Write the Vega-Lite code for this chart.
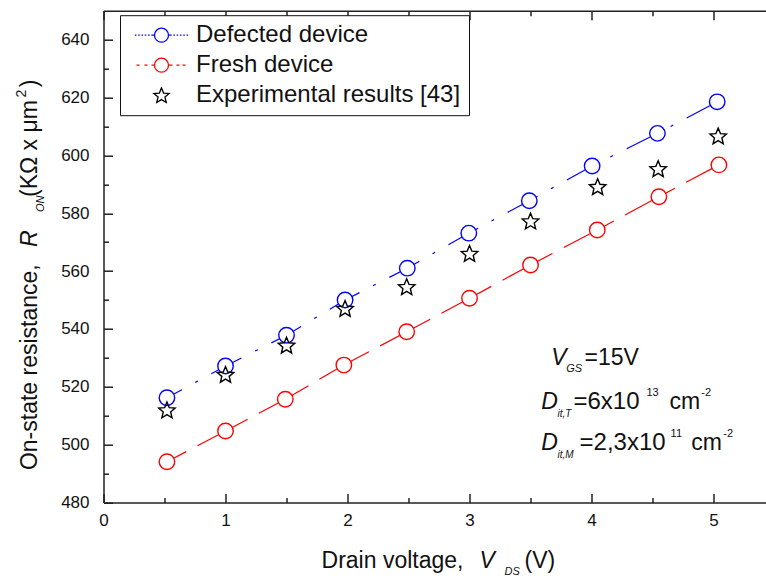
{
  "$schema": "https://vega.github.io/schema/vega-lite/v6.json",
  "width": 662.5,
  "height": 491.8,
  "autosize": {"type": "none"},
  "padding": {"left": 103.5, "top": 10.7, "right": 0, "bottom": 77.5},
  "background": "white",
  "config": {"view": {"stroke": null}, "font": "Liberation Sans"},
  "datasets": {
    "series": [
      {"series": "Defected device", "vds": 0.52, "ron": 516.2},
      {"series": "Defected device", "vds": 1.0, "ron": 527.2},
      {"series": "Defected device", "vds": 1.5, "ron": 537.8},
      {"series": "Defected device", "vds": 1.98, "ron": 550.0},
      {"series": "Defected device", "vds": 2.49, "ron": 561.0},
      {"series": "Defected device", "vds": 2.994, "ron": 573.1},
      {"series": "Defected device", "vds": 3.49, "ron": 584.3},
      {"series": "Defected device", "vds": 4.005, "ron": 596.3},
      {"series": "Defected device", "vds": 4.54, "ron": 607.6},
      {"series": "Defected device", "vds": 5.03, "ron": 618.5},
      {"series": "Fresh device", "vds": 0.52, "ron": 494.1},
      {"series": "Fresh device", "vds": 1.0, "ron": 504.7},
      {"series": "Fresh device", "vds": 1.49, "ron": 515.7},
      {"series": "Fresh device", "vds": 1.97, "ron": 527.5},
      {"series": "Fresh device", "vds": 2.485, "ron": 539.0},
      {"series": "Fresh device", "vds": 3.0, "ron": 550.6},
      {"series": "Fresh device", "vds": 3.5, "ron": 562.1},
      {"series": "Fresh device", "vds": 4.047, "ron": 574.2},
      {"series": "Fresh device", "vds": 4.552, "ron": 585.7},
      {"series": "Fresh device", "vds": 5.044, "ron": 596.7},
      {"series": "Experimental results [43]", "vds": 0.52, "ron": 512.0},
      {"series": "Experimental results [43]", "vds": 1.0, "ron": 524.3},
      {"series": "Experimental results [43]", "vds": 1.5, "ron": 534.4},
      {"series": "Experimental results [43]", "vds": 1.98, "ron": 547.1},
      {"series": "Experimental results [43]", "vds": 2.485, "ron": 554.6},
      {"series": "Experimental results [43]", "vds": 3.0, "ron": 566.1},
      {"series": "Experimental results [43]", "vds": 3.5, "ron": 577.3},
      {"series": "Experimental results [43]", "vds": 4.05, "ron": 589.2},
      {"series": "Experimental results [43]", "vds": 4.546, "ron": 595.4},
      {"series": "Experimental results [43]", "vds": 5.038, "ron": 606.7}
    ],
    "notes": [
      {"t": "Drain voltage,", "k": "n", "x": 1.787, "y": 457.4},
      {"t": "V", "k": "i", "x": 3.082, "y": 457.4},
      {"t": "DS", "k": "s", "x": 3.287, "y": 457.4},
      {"t": "(V)", "k": "n", "x": 3.451, "y": 457.4},
      {"t": "V", "k": "i", "x": 3.67, "y": 527.5},
      {"t": "GS", "k": "s", "x": 3.793, "y": 527.5},
      {"t": "=15V", "k": "n", "x": 3.943, "y": 527.5},
      {"t": "D", "k": "i", "x": 3.588, "y": 512.4},
      {"t": "it,T", "k": "t", "x": 3.721, "y": 512.4},
      {"t": "=6x10", "k": "w", "x": 3.852, "y": 512.4},
      {"t": "13", "k": "p", "x": 4.45, "y": 512.4},
      {"t": "cm", "k": "n", "x": 4.639, "y": 512.4},
      {"t": "-2", "k": "p", "x": 4.9, "y": 512.4},
      {"t": "D", "k": "i", "x": 3.588, "y": 498.2},
      {"t": "it,M", "k": "t", "x": 3.721, "y": 498.2},
      {"t": "=2,3x10", "k": "w", "x": 3.902, "y": 498.2},
      {"t": "11", "k": "p", "x": 4.648, "y": 498.2},
      {"t": "cm", "k": "n", "x": 4.817, "y": 498.2},
      {"t": "-2", "k": "p", "x": 5.08, "y": 498.2},
      {"t": "On-state resistance,", "k": "rn", "x": -0.549, "y": 491.2},
      {"t": "R", "k": "ri", "x": -0.549, "y": 568.3},
      {"t": "ON", "k": "rs", "x": -0.549, "y": 580.4},
      {"t": "(KΩ x μm", "k": "rn", "x": -0.549, "y": 585.6},
      {"t": "2", "k": "rp", "x": -0.549, "y": 620.0},
      {"t": ")", "k": "rn", "x": -0.549, "y": 623.5}
    ]
  },
  "resolve": {"axis": {"x": "independent", "y": "independent"}},
  "layer": [
    {
      "data": {"name": "series"},
      "transform": [{"filter": "datum.series === 'Defected device'"}],
      "mark": {"type": "line", "color": "#0000ff", "strokeWidth": 1.2, "strokeDash": [34, 15.25, 3, 15.25], "strokeDashOffset": 17},
      "encoding": {
        "x": {"field": "vds", "type": "quantitative", "scale": {"domain": [0, 5.43], "nice": false, "zero": false},
          "axis": {"orient": "top", "values": [0, 1, 2, 3, 4, 5], "labels": false, "title": null, "grid": false, "tickSize": -9,
            "domainColor": "#222", "domainWidth": 1.5, "tickColor": "#222", "tickWidth": 1.5}},
        "y": {"field": "ron", "type": "quantitative", "scale": {"domain": [480, 650], "nice": false, "zero": false}, "axis": null}
      }
    },
    {
      "data": {"name": "series"},
      "transform": [{"filter": "datum.series === 'Fresh device'"}],
      "mark": {"type": "line", "color": "#ff0000", "strokeWidth": 1.2, "strokeDash": [56.7, 12.7], "strokeDashOffset": 34.9},
      "encoding": {
        "x": {"field": "vds", "type": "quantitative", "scale": {"domain": [0, 5.43], "nice": false, "zero": false},
          "axis": {"orient": "bottom", "values": [0.5, 1.5, 2.5, 3.5, 4.5], "labels": false, "domain": false, "title": null, "grid": false, "tickSize": -5,
            "tickColor": "#222", "tickWidth": 1.5}},
        "y": {"field": "ron", "type": "quantitative", "scale": {"domain": [480, 650], "nice": false, "zero": false},
          "axis": {"orient": "left", "values": [490, 510, 530, 550, 570, 590, 610, 630], "labels": false, "domain": false, "title": null, "grid": false, "tickSize": -5,
            "tickColor": "#222", "tickWidth": 1.5}}
      }
    },
    {
      "data": {"name": "series"},
      "transform": [{"filter": "datum.series !== 'Experimental results [43]'"}],
      "mark": {"type": "point", "shape": "circle", "filled": false, "fill": "white", "size": 240, "strokeWidth": 1.4, "opacity": 1},
      "encoding": {
        "x": {"field": "vds", "type": "quantitative", "scale": {"domain": [0, 5.43], "nice": false, "zero": false},
          "axis": {"orient": "bottom", "values": [0, 1, 2, 3, 4, 5], "title": null, "grid": false, "format": "d", "tickSize": -9,
            "labelFontSize": 17, "labelColor": "#111", "labelPadding": 19, "labelFlush": false, "labelOverlap": false,
            "domainColor": "#222", "domainWidth": 1.5, "tickColor": "#222", "tickWidth": 1.5}},
        "y": {"field": "ron", "type": "quantitative", "scale": {"domain": [480, 650], "nice": false, "zero": false},
          "axis": {"orient": "left", "values": [480, 500, 520, 540, 560, 580, 600, 620, 640], "title": null, "grid": false, "format": "d", "tickSize": -9,
            "labelFontSize": 17, "labelColor": "#111", "labelPadding": 23.5, "labelFlush": false, "labelOverlap": false,
            "domainColor": "#222", "domainWidth": 1.5, "tickColor": "#222", "tickWidth": 1.5}},
        "color": {"field": "series", "type": "nominal",
          "scale": {"domain": ["Defected device", "Fresh device", "Experimental results [43]"], "range": ["#0000ff", "#ff0000", "#000000"]}}
      }
    },
    {
      "data": {"name": "series"},
      "transform": [{"filter": "datum.series === 'Experimental results [43]'"}],
      "mark": {"type": "point", "shape": "M0,-0.905L0.2645,-0.269L0.9511,-0.214L0.428,0.234L0.5878,0.904L0,0.545L-0.5878,0.904L-0.428,0.234L-0.9511,-0.214L-0.2645,-0.269Z", "filled": false, "size": 300, "strokeWidth": 1.4, "opacity": 1},
      "encoding": {
        "x": {"field": "vds", "type": "quantitative", "scale": {"domain": [0, 5.43], "nice": false, "zero": false},
          "axis": {"orient": "top", "values": [0.5, 1.5, 2.5, 3.5, 4.5], "labels": false, "domain": false, "title": null, "grid": false, "tickSize": -5,
            "tickColor": "#222", "tickWidth": 1.5}},
        "y": {"field": "ron", "type": "quantitative", "scale": {"domain": [480, 650], "nice": false, "zero": false}, "axis": null},
        "color": {"field": "series", "type": "nominal"}
      }
    },
    {
      "data": {"name": "series"},
      "transform": [{"filter": "false"}],
      "mark": {"type": "point", "filled": false, "size": 196, "strokeWidth": 1.3, "opacity": 1},
      "encoding": {
        "color": {"field": "series", "type": "nominal",
          "legend": {
            "orient": "none", "legendX": 16.5, "legendY": 4.5, "title": null, "zindex": 2,
            "strokeColor": "#111", "fillColor": "white", "padding": 8, "rowPadding": 6,
            "labelFontSize": 24, "labelColor": "#111", "labelFont": "Liberation Sans", "labelLimit": 400,
            "symbolSize": 196, "symbolStrokeWidth": 1.3, "symbolOffset": 21.5, "labelOffset": 22.5}},
        "shape": {"field": "series", "type": "nominal",
          "scale": {"domain": ["Defected device", "Fresh device", "Experimental results [43]"],
            "range": [
              "M1,0C1,0.552,0.552,1,0,1C-0.552,1,-1,0.552,-1,0C-1,-0.552,-0.552,-1,0,-1C0.552,-1,1,-0.552,1,0ZM-3.8,0L-3.58,0M-3.33,0L-3.11,0M-2.86,0L-2.64,0M-2.39,0L-2.17,0M-1.92,0L-1.7,0M-1.45,0L-1,0M1,0L1.45,0M1.7,0L1.92,0M2.17,0L2.39,0M2.64,0L2.86,0M3.11,0L3.33,0M3.58,0L3.8,0",
              "M1,0C1,0.552,0.552,1,0,1C-0.552,1,-1,0.552,-1,0C-1,-0.552,-0.552,-1,0,-1C0.552,-1,1,-0.552,1,0ZM-3.57,0L-3.14,0M-2.43,0L-2,0M-1.43,0L-1,0M1,0L1.57,0M2.14,0L2.57,0M3,0L3.43,0",
              "M0,-1.041L0.304,-0.309L1.094,-0.246L0.492,0.269L0.676,1.04L0,0.627L-0.676,1.04L-0.492,0.269L-1.094,-0.246L-0.304,-0.309Z"
            ]},
          "legend": {
            "orient": "none", "legendX": 16.5, "legendY": 4.5, "title": null, "zindex": 2,
            "strokeColor": "#111", "fillColor": "white", "padding": 8, "rowPadding": 6,
            "labelFontSize": 24, "labelColor": "#111", "labelFont": "Liberation Sans", "labelLimit": 400,
            "symbolSize": 196, "symbolStrokeWidth": 1.3, "symbolOffset": 21.5, "labelOffset": 22.5}}
      }
    },
    {
      "data": {"name": "notes"},
      "transform": [{"filter": "datum.k === 'n'"}],
      "mark": {"type": "text", "align": "left", "baseline": "alphabetic", "fontSize": 23, "color": "#111", "clip": false},
      "encoding": {
        "x": {"field": "x", "type": "quantitative", "scale": {"domain": [0, 5.43], "nice": false, "zero": false}, "axis": null},
        "y": {"field": "y", "type": "quantitative", "scale": {"domain": [480, 650], "nice": false, "zero": false}, "axis": null},
        "text": {"field": "t"}
      }
    },
    {
      "data": {"name": "notes"},
      "transform": [{"filter": "datum.k === 'w'"}],
      "mark": {"type": "text", "align": "left", "baseline": "alphabetic", "fontSize": 24, "color": "#111", "clip": false},
      "encoding": {
        "x": {"field": "x", "type": "quantitative", "scale": {"domain": [0, 5.43], "nice": false, "zero": false}, "axis": null},
        "y": {"field": "y", "type": "quantitative", "scale": {"domain": [480, 650], "nice": false, "zero": false}, "axis": null},
        "text": {"field": "t"}
      }
    },
    {
      "data": {"name": "notes"},
      "transform": [{"filter": "datum.k === 'i'"}],
      "mark": {"type": "text", "align": "left", "baseline": "alphabetic", "fontSize": 23, "fontStyle": "italic", "color": "#111", "clip": false},
      "encoding": {
        "x": {"field": "x", "type": "quantitative", "scale": {"domain": [0, 5.43], "nice": false, "zero": false}, "axis": null},
        "y": {"field": "y", "type": "quantitative", "scale": {"domain": [480, 650], "nice": false, "zero": false}, "axis": null},
        "text": {"field": "t"}
      }
    },
    {
      "data": {"name": "notes"},
      "transform": [{"filter": "datum.k === 's'"}],
      "mark": {"type": "text", "align": "left", "baseline": "alphabetic", "fontSize": 11, "fontStyle": "italic", "dy": 7, "color": "#111", "clip": false},
      "encoding": {
        "x": {"field": "x", "type": "quantitative", "scale": {"domain": [0, 5.43], "nice": false, "zero": false}, "axis": null},
        "y": {"field": "y", "type": "quantitative", "scale": {"domain": [480, 650], "nice": false, "zero": false}, "axis": null},
        "text": {"field": "t"}
      }
    },
    {
      "data": {"name": "notes"},
      "transform": [{"filter": "datum.k === 't'"}],
      "mark": {"type": "text", "align": "left", "baseline": "alphabetic", "fontSize": 10, "fontStyle": "italic", "dy": 8, "color": "#111", "clip": false},
      "encoding": {
        "x": {"field": "x", "type": "quantitative", "scale": {"domain": [0, 5.43], "nice": false, "zero": false}, "axis": null},
        "y": {"field": "y", "type": "quantitative", "scale": {"domain": [480, 650], "nice": false, "zero": false}, "axis": null},
        "text": {"field": "t"}
      }
    },
    {
      "data": {"name": "notes"},
      "transform": [{"filter": "datum.k === 'p'"}],
      "mark": {"type": "text", "align": "left", "baseline": "alphabetic", "fontSize": 11, "dy": -13, "color": "#111", "clip": false},
      "encoding": {
        "x": {"field": "x", "type": "quantitative", "scale": {"domain": [0, 5.43], "nice": false, "zero": false}, "axis": null},
        "y": {"field": "y", "type": "quantitative", "scale": {"domain": [480, 650], "nice": false, "zero": false}, "axis": null},
        "text": {"field": "t"}
      }
    },
    {
      "data": {"name": "notes"},
      "transform": [{"filter": "datum.k === 'rn'"}],
      "mark": {"type": "text", "align": "left", "baseline": "alphabetic", "angle": 270, "fontSize": 23, "color": "#111", "clip": false},
      "encoding": {
        "x": {"field": "x", "type": "quantitative", "scale": {"domain": [0, 5.43], "nice": false, "zero": false}, "axis": null},
        "y": {"field": "y", "type": "quantitative", "scale": {"domain": [480, 650], "nice": false, "zero": false}, "axis": null},
        "text": {"field": "t"}
      }
    },
    {
      "data": {"name": "notes"},
      "transform": [{"filter": "datum.k === 'ri'"}],
      "mark": {"type": "text", "align": "left", "baseline": "alphabetic", "angle": 270, "fontSize": 23, "fontStyle": "italic", "color": "#111", "clip": false},
      "encoding": {
        "x": {"field": "x", "type": "quantitative", "scale": {"domain": [0, 5.43], "nice": false, "zero": false}, "axis": null},
        "y": {"field": "y", "type": "quantitative", "scale": {"domain": [480, 650], "nice": false, "zero": false}, "axis": null},
        "text": {"field": "t"}
      }
    },
    {
      "data": {"name": "notes"},
      "transform": [{"filter": "datum.k === 'rs'"}],
      "mark": {"type": "text", "align": "left", "baseline": "alphabetic", "angle": 270, "fontSize": 11, "fontStyle": "italic", "dy": 7, "color": "#111", "clip": false},
      "encoding": {
        "x": {"field": "x", "type": "quantitative", "scale": {"domain": [0, 5.43], "nice": false, "zero": false}, "axis": null},
        "y": {"field": "y", "type": "quantitative", "scale": {"domain": [480, 650], "nice": false, "zero": false}, "axis": null},
        "text": {"field": "t"}
      }
    },
    {
      "data": {"name": "notes"},
      "transform": [{"filter": "datum.k === 'rp'"}],
      "mark": {"type": "text", "align": "left", "baseline": "alphabetic", "angle": 270, "fontSize": 14, "dy": -11, "color": "#111", "clip": false},
      "encoding": {
        "x": {"field": "x", "type": "quantitative", "scale": {"domain": [0, 5.43], "nice": false, "zero": false}, "axis": null},
        "y": {"field": "y", "type": "quantitative", "scale": {"domain": [480, 650], "nice": false, "zero": false}, "axis": null},
        "text": {"field": "t"}
      }
    }
  ]
}
